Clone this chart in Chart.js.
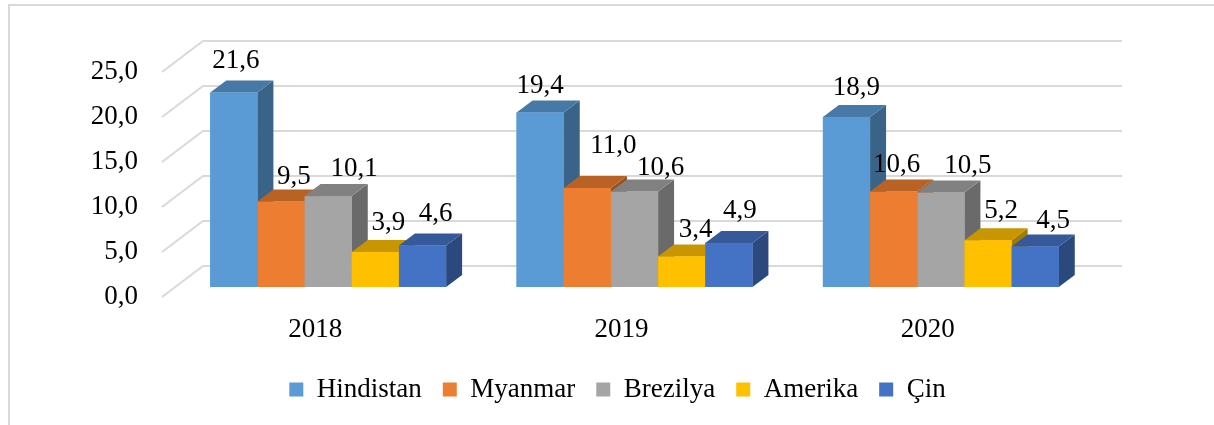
<!DOCTYPE html>
<html>
<head>
<meta charset="utf-8">
<script src="https://cdn.jsdelivr.net/npm/chart.js@4/dist/chart.umd.min.js"></script>
<style>
	html, body { margin: 0; padding: 0; background: #fff; }
	canvas { display: block; }
</style>
</head>
<body>
<canvas id="chart" width="1214" height="425"></canvas>
<script>
var years = ['2018', '2019', '2020'];
var countries = ['Hindistan', 'Myanmar', 'Brezilya', 'Amerika', 'Çin'];
var hindistan = [21.6, 19.4, 18.9];
var myanmar = [9.5, 11.0, 10.6];
var brezilya = [10.1, 10.6, 10.5];
var amerika = [3.9, 3.4, 5.2];
var cin = [4.6, 4.9, 4.5];
var yTicks = [0, 5, 10, 15, 20, 25];

(function() {
	var series = [hindistan, myanmar, brezilya, amerika, cin];
	var frontColors = ['#5B9BD5', '#ED7D31', '#A5A5A5', '#FFC000', '#4472C4'];
	var font = { family: "'Liberation Serif', 'Times New Roman', serif", size: 27 };

	// fake 3d: offsets from the bar plane (chart area) to floor front, bar back, wall
	var floorFront = [-13, 10];
	var barDepth = [16, -12];
	var wallBack = [28, -21];

	// where excel left each value label, relative to the bar's front top centre
	var labelShift = [
		[[2, -32], [0, -26], [10, -29]],
		[[13, -25], [26, -42], [3, -27]],
		[[26, -27], [26, -24], [27, -27]],
		[[13, -29], [14, -26], [13, -29]],
		[[13, -32], [11, -32], [18, -26]]
	];

	function fmt(v) {
		return Number(v).toFixed(1).replace('.', ',');
	}

	function shade(hex, k) {
		var n = parseInt(hex.slice(1), 16);
		var r = Math.round(((n >> 16) & 255) * k);
		var g = Math.round(((n >> 8) & 255) * k);
		var b = Math.round((n & 255) * k);
		return 'rgb(' + r + ',' + g + ',' + b + ')';
	}

	function poly(ctx, pts, fill) {
		ctx.beginPath();
		ctx.moveTo(pts[0][0], pts[0][1]);
		for (var i = 1; i < pts.length; i++)
			ctx.lineTo(pts[i][0], pts[i][1]);
		ctx.closePath();
		ctx.fillStyle = fill;
		ctx.fill();
	}

	var cube3d = {
		id: 'cube3d',
		beforeDraw: function(chart) {
			var ctx = chart.ctx;
			ctx.save();
			ctx.strokeStyle = '#D9D9D9';
			ctx.lineWidth = 2;
			ctx.strokeRect(9, 5, chart.width + 20, chart.height + 20);
			ctx.restore();
		},
		beforeDatasetsDraw: function(chart) {
			var ctx = chart.ctx;
			var area = chart.chartArea;
			var y = chart.scales.y;
			ctx.save();
			ctx.strokeStyle = '#D9D9D9';
			ctx.lineWidth = 2;
			y.ticks.forEach(function(t) {
				var py = y.getPixelForValue(t.value);
				ctx.beginPath();
				ctx.moveTo(area.left + floorFront[0], py + floorFront[1]);
				ctx.lineTo(area.left + wallBack[0], py + wallBack[1]);
				ctx.lineTo(area.right + wallBack[0], py + wallBack[1]);
				ctx.stroke();
			});
			ctx.restore();
		},
		afterDatasetsDraw: function(chart) {
			var ctx = chart.ctx;
			var dx = barDepth[0], dy = barDepth[1];
			var i, j;
			ctx.save();
			for (j = 0; j < years.length; j++) {
				for (i = 0; i < series.length; i++) {
					var p = chart.getDatasetMeta(i).data[j].getProps(['x', 'y', 'base', 'width'], true);
					var l = p.x - p.width / 2, r = p.x + p.width / 2;
					var c = frontColors[i];
					poly(ctx, [[r, p.y], [r + dx, p.y + dy], [r + dx, p.base + dy], [r, p.base]], shade(c, 0.64));
					poly(ctx, [[l, p.y], [l + dx, p.y + dy], [r + dx, p.y + dy], [r, p.y]], shade(c, 0.78));
					ctx.fillStyle = c;
					ctx.fillRect(l, p.y, p.width, p.base - p.y);
				}
			}
			ctx.font = font.size + 'px ' + font.family;
			ctx.fillStyle = '#000';
			ctx.textAlign = 'center';
			ctx.textBaseline = 'middle';
			for (i = 0; i < series.length; i++) {
				var bars = chart.getDatasetMeta(i).data;
				for (j = 0; j < years.length; j++) {
					var b = bars[j].getProps(['x', 'y'], true);
					ctx.fillText(fmt(series[i][j]), b.x + labelShift[i][j][0], b.y + labelShift[i][j][1]);
				}
			}
			ctx.restore();
		}
	};

	new Chart(document.getElementById('chart'), {
		type: 'bar',
		data: {
			labels: years,
			datasets: countries.map(function(name, i) {
				return { label: name, data: series[i], backgroundColor: frontColors[i], borderWidth: 0 };
			})
		},
		options: {
			responsive: false,
			animation: false,
			devicePixelRatio: 1,
			layout: { padding: { left: 21, right: 0, top: 62, bottom: 12 } },
			datasets: { bar: { categoryPercentage: 0.77, barPercentage: 1 } },
			plugins: {
				legend: {
					position: 'bottom',
					labels: { boxWidth: 14, boxHeight: 14, padding: 21, color: '#000', font: font }
				},
				tooltip: { enabled: false }
			},
			scales: {
				x: {
					grid: { display: false },
					border: { display: false },
					ticks: { padding: 19, labelOffset: -13, color: '#000', font: font },
					afterFit: function(s) { s.height = 68; }
				},
				y: {
					min: 0,
					max: 25,
					grid: { display: false },
					border: { display: false },
					ticks: { padding: 29, labelOffset: 10, color: '#000', font: font, callback: fmt },
					afterBuildTicks: function(s) {
						s.ticks = yTicks.map(function(v) { return { value: v }; });
					},
					afterFit: function(s) { s.width = 154; }
				},
				// empty right axis, only keeps room for the 3d wall on the right
				side: {
					position: 'right',
					grid: { display: false },
					border: { display: false },
					ticks: { display: false },
					afterFit: function(s) { s.width = 120; }
				}
			}
		},
		plugins: [cube3d]
	});
}());
</script>
</body>
</html>
